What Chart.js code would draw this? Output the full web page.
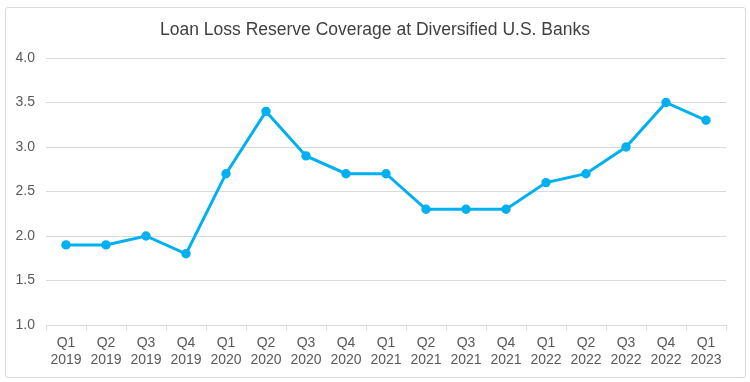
<!DOCTYPE html>
<html><head><meta charset="utf-8">
<script src="https://cdn.jsdelivr.net/npm/chart.js@4"></script>
<style>
html,body{margin:0;padding:0;background:#fff;}
#frame{position:absolute;left:5px;top:7px;width:739px;height:369px;border:1px solid #d9d9d9;border-radius:3px;}
#wrap{position:absolute;left:0;top:0;width:750px;height:382px;}
</style></head>
<body>
<div id="frame"></div>
<div id="wrap"><canvas id="c" width="750" height="382"></canvas></div>
<script>
const quarters = ["Q1","Q2","Q3","Q4","Q1","Q2","Q3","Q4","Q1","Q2","Q3","Q4","Q1","Q2","Q3","Q4","Q1"];
const years = ["2019","2019","2019","2019","2020","2020","2020","2020","2021","2021","2021","2021","2022","2022","2022","2022","2023"];
const coverage = [1.9,1.9,2.0,1.8,2.7,3.4,2.9,2.7,2.7,2.3,2.3,2.3,2.6,2.7,3.0,3.5,3.3];
const titleText = "Loan Loss Reserve Coverage at Diversified U.S. Banks";

const labels = quarters.map((q,i)=>[q, years[i]]);
const font = "'Liberation Sans', Arial, sans-serif";
const centerTitle = {
  id: 'centerTitle',
  afterLayout(chart) {
    const t = chart.titleBlock;
    if (t) { t.left = 0; t.right = chart.width; t.width = chart.width; }
  }
};
new Chart(document.getElementById('c'), {
  type: 'line',
  data: { labels: labels, datasets: [{
    data: coverage,
    borderColor: '#00B0F0',
    backgroundColor: '#00B0F0',
    borderWidth: 3,
    pointRadius: 3.2,
    pointHoverRadius: 3.2,
    tension: 0
  }]},
  plugins: [centerTitle],
  options: {
    responsive: false,
    animation: false,
    layout: { padding: { left: 0, right: 24, top: 0, bottom: 0 } },
    plugins: {
      legend: { display: false },
      tooltip: { enabled: false },
      title: { display: true, text: titleText, color: '#404040',
        font: { family: font, size: 17.5, weight: 'normal' },
        padding: { top: 19.5, bottom: 17.5 } }
    },
    scales: {
      x: {
        offset: true,
        grid: { drawOnChartArea: false, offset: true, tickLength: 5, color: '#d9d9d9' },
        border: { color: '#d9d9d9' },
        ticks: { color: '#595959', font: { family: font, size: 14 }, padding: 5, maxRotation: 0, autoSkip: false },
        afterFit: s => { s.height = 57; }
      },
      y: {
        min: 1.0, max: 4.0,
        grid: { color: '#d9d9d9', drawTicks: false },
        border: { display: false },
        ticks: { stepSize: 0.5, color: '#595959', font: { family: font, size: 14 }, padding: 11,
          callback: v => Number(v).toFixed(1) },
        afterFit: s => { s.width = 46; }
      }
    }
  }
});
</script>
</body></html>
